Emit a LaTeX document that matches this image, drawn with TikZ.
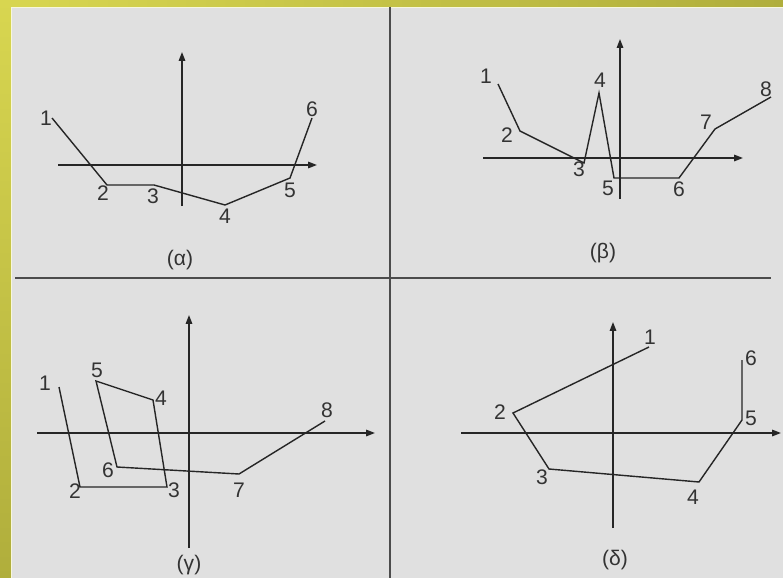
\documentclass[tikz,border=0pt]{standalone}
\usepackage{fontspec}
\setmainfont{Liberation Sans}
\usepackage{xcolor}
\usetikzlibrary{arrows.meta}

\definecolor{panelgray}{RGB}{224,224,224}
\definecolor{rimlight}{RGB}{216,214,80}
\definecolor{rimdark}{RGB}{176,174,60}

\begin{document}
\begin{tikzpicture}[
  x=0.025cm, y=-0.025cm,
  axis/.style={-{Triangle[length=2.2mm,width=1.6mm]}, line width=1pt, draw=black!85},
  curve/.style={line width=1pt, draw=black!85},
  num/.style={font=\fontsize{15}{18}\selectfont, text=black!80, inner sep=0pt},
  caption/.style={font=\fontsize{15}{18}\selectfont, text=black!80, inner sep=0pt},
  divider/.style={line width=1.4pt, draw=black!70}
]
\useasboundingbox (0,0) rectangle (783,578);
% background and rim
\fill[panelgray] (0,0) rectangle (783,578);
\shade[top color=rimlight, bottom color=rimdark] (0,0) rectangle (11,578);
\shade[left color=rimlight, right color=rimdark] (0,0) rectangle (783,7);
\draw[white!80!rimlight, line width=0.5pt] (11.3,578) -- (11.3,7.3) -- (783,7.3);

% dividers
\coordinate (vtop) at (390,7);
\coordinate (vbot) at (390,578);
\coordinate (hleft) at (15,278);
\coordinate (hright) at (771,278);
\draw[divider] (vtop) -- (vbot);
\draw[divider] (hleft) -- (hright);

% (alpha)
\coordinate (axa0) at (58,165); \coordinate (axa1) at (317,165);
\coordinate (aya0) at (182,206); \coordinate (aya1) at (182,52);
\draw[axis] (axa0) -- (axa1);
\draw[axis] (aya0) -- (aya1);
\foreach \i/\x/\y in {1/52/118,2/107/185,3/154/185,4/225/205,5/290/178,6/312/118}
  \coordinate (a\i) at (\x,\y);
\draw[curve] (a1) -- (a2) -- (a3) -- (a4) -- (a5) -- (a6);
\foreach \i/\x/\y in {1/46/118,2/103/193,3/153/196,4/225/216,5/290/190,6/312/109}
  \node[num] (la\i) at (\x,\y) {\i};
\node[caption] (capa) at (180,260) {(α)};

% (beta)
\coordinate (axb0) at (483,158); \coordinate (axb1) at (743,158);
\coordinate (ayb0) at (620,199); \coordinate (ayb1) at (620,39);
\draw[axis] (axb0) -- (axb1);
\draw[axis] (ayb0) -- (ayb1);
\foreach \i/\x/\y in {1/498/84,2/520/131,3/584/163,4/599/93,5/614/178,6/679/178,7/715/129,8/771/97}
  \coordinate (b\i) at (\x,\y);
\draw[curve] (b1) -- (b2) -- (b3) -- (b4) -- (b5) -- (b6) -- (b7) -- (b8);
\foreach \i/\x/\y in {1/486/76,2/507/135,3/579/169,4/600/80,5/608/188,6/679/189,7/706/122,8/766/89}
  \node[num] (lb\i) at (\x,\y) {\i};
\node[caption] (capb) at (603,253) {(β)};

% (gamma)
\coordinate (axc0) at (37,433); \coordinate (axc1) at (375,433);
\coordinate (ayc0) at (189,548); \coordinate (ayc1) at (189,315);
\draw[axis] (axc0) -- (axc1);
\draw[axis] (ayc0) -- (ayc1);
\foreach \i/\x/\y in {1/59/387,2/80/487,3/167/487,4/153/400,5/96/381,6/117/467,7/239/474,8/325/421}
  \coordinate (c\i) at (\x,\y);
\draw[curve] (c1) -- (c2) -- (c3) -- (c4) -- (c5) -- (c6) -- (c7) -- (c8);
\foreach \i/\x/\y in {1/45/383,2/75/491,3/174/490,4/161/398,5/97/370,6/108/470,7/239/490,8/327/410}
  \node[num] (lc\i) at (\x,\y) {\i};
\node[caption] (capc) at (189,565) {(γ)};

% (delta)
\coordinate (axd0) at (461,433); \coordinate (axd1) at (781,433);
\coordinate (ayd0) at (613,528); \coordinate (ayd1) at (613,322);
\draw[axis] (axd0) -- (axd1);
\draw[axis] (ayd0) -- (ayd1);
\foreach \i/\x/\y in {1/649/347,2/513/413,3/549/469,4/699/482,5/742/420,6/742/360}
  \coordinate (d\i) at (\x,\y);
\draw[curve] (d1) -- (d2) -- (d3) -- (d4) -- (d5) -- (d6);
\foreach \i/\x/\y in {1/650/337,2/500/412,3/542/477,4/693/497,5/751/418,6/751/358}
  \node[num] (ld\i) at (\x,\y) {\i};
\node[caption] (capd) at (615,560) {(δ)};
\end{tikzpicture}
\end{document}
